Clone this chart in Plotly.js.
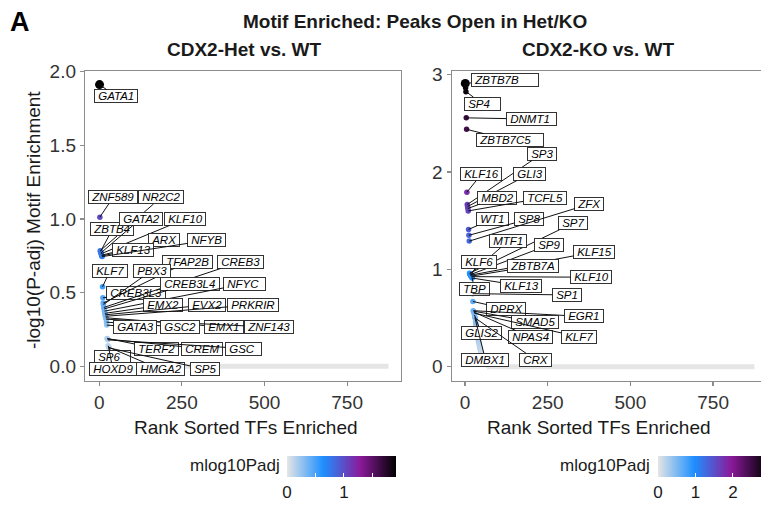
<!DOCTYPE html>
<html>
<head>
<meta charset="utf-8">
<script src="https://cdn.plot.ly/plotly-3.0.1.min.js"></script>
<style>
html,body{margin:0;padding:0;overflow:hidden;background:#fff;}
#chart{width:770px;height:506px;}
</style>
</head>
<body>
<div id="chart"></div>
<script>
// ---------------- DATA ----------------
// CDX2-Het vs. WT : top TFs (rank sorted), labelled
const hetNames = ["GATA1","ZNF589","NR2C2","ZBTB4","GATA2","KLF10","ARX","KLF13","NFYB","KLF7",
  "CREB3L3","TFAP2B","PBX3","CREB3","CREB3L4","NFYC","EMX2","EVX2","PRKRIR","EMX1",
  "ZNF143","GSC2","GATA3","TERF2","CREM","GSC","SP6","HOXD9","HMGA2","SP5"];
const hetValues = [1.913,1.013,0.785,0.78,0.77,0.765,0.755,0.75,0.745,0.54,
  0.465,0.43,0.42,0.40,0.39,0.375,0.36,0.35,0.34,0.33,
  0.32,0.30,0.28,0.19,0.185,0.18,0.14,0.135,0.13,0.125];
// unlabelled ranks following the labelled ones
const hetTailValues = [0.10,0.08,0.06,0.045,0.03,0.02,0.012,0.006];
const hetTotalTFs = 875;   // remaining TFs sit at 0

// CDX2-KO vs. WT
const koNames = ["ZBTB7B","","SP4","DNMT1","ZBTB7C5","KLF16","SP3","GLI3","MBD2","TCFL5",
  "WT1","SP8","ZFX","SP7","MTF1","SP9","KLF15","KLF6","ZBTB7A","KLF10",
  "TBP","KLF13","SP1","DPRX","EGR1","SMAD5","NPAS4","KLF7","GLIS2","DMBX1","CRX"];
const koValues = [2.91,2.866,2.825,2.556,2.438,1.792,1.665,1.645,1.625,1.60,
  1.41,1.35,1.29,0.96,0.95,0.945,0.94,0.935,0.93,0.925,
  0.915,0.91,0.75,0.67,0.575,0.57,0.56,0.55,0.53,0.505,0.50];
const koTailValues = [0.46,0.44,0.42,0.39,0.37,0.35,0.33,0.31,0.28,0.26,
  0.25,0.23,0.21,0.20,0.18,0.17,0.15,0.14,0.13,0.12,
  0.10,0.09,0.08,0.07,0.06,0.055,0.05,0.045,0.04,0.035,
  0.03,0.03,0.025,0.02,0.02];
const koTotalTFs = 875;

const xTickVals = [0,250,500,750];
const hetYTicks = [0,0.5,1,1.5,2];
const hetYTickText = ["0.0","0.5","1.0","1.5","2.0"];
const koYTicks = [0,1,2,3];

// ---------------- LABEL PLACEMENT (layout: label box centres) ----------------
const hetLabelAt = {
  GATA1:[51,1.833], ZNF589:[42,1.147], NR2C2:[187,1.147], GATA2:[125,1.001], KLF10:[261,1.001],
  ZBTB4:[40,0.931], ARX:[196,0.855], NFYB:[325,0.855], KLF13:[101,0.792], TFAP2B:[267,0.709],
  CREB3:[427,0.709], KLF7:[33,0.65], PBX3:[159,0.65], CREB3L4:[275,0.561], NFYC:[441,0.561],
  CREB3L3:[112,0.498], EMX2:[194,0.417], EVX2:[326,0.417], PRKRIR:[466,0.417], GATA3:[109,0.267],
  GSC2:[244,0.267], EMX1:[377,0.267], ZNF143:[514,0.267], TERF2:[174,0.121], CREM:[311,0.121],
  GSC:[438,0.121], SP6:[41,0.065], HOXD9:[41,-0.019], HMGA2:[184,-0.019], SP5:[319,-0.019]
};
const koLabelAt = {
  ZBTB7B:[120,2.943], SP4:[53,2.702], DNMT1:[202,2.543], ZBTB7C5:[136,2.327], SP3:[232,2.186],
  KLF16:[50,1.978], GLI3:[194,1.978], MBD2:[97,1.736], TCFL5:[241,1.736], ZFX:[376,1.670],
  WT1:[83,1.517], SP8:[194,1.517], SP7:[327,1.474], MTF1:[131,1.290], SP9:[254,1.251],
  KLF15:[390,1.177], KLF6:[42,1.076], ZBTB7A:[206,1.034], KLF10:[382,0.919], TBP:[30,0.803],
  KLF13:[170,0.832], SP1:[308,0.737], DPRX:[125,0.593], EGR1:[360,0.516], SMAD5:[213,0.459],
  GLIS2:[49,0.348], NPAS4:[198,0.306], KLF7:[344,0.306], DMBX1:[62,0.071], CRX:[213,0.071]
};
const extraPad = {ZBTB7B:5, ZBTB7C5:3, SP4:2, DNMT1:1, GSC:1, NFYC:1, SP6:2};

// ---------------- BUILD ----------------
const FONT = "Liberation Sans, Arial, Helvetica, sans-serif";
const colorscale = [[0,"#e5e5e5"],[0.33,"#1e90ff"],[0.67,"#8b1a9b"],[1,"#000000"]];

function panelTraces(values, tail, total, xa, ya, cax){
  const all = values.concat(tail);
  const ranks = all.map((v,i)=>i+1);
  const sizes = all.map((v,i)=> i===0 ? 9 : 5.5);
  return [{
    type:"scatter", mode:"lines", x:[all.length+1, total], y:[0,0],
    xaxis:xa, yaxis:ya, line:{color:"#e5e5e5", width:5}, hoverinfo:"skip", showlegend:false
  },{
    type:"scatter", mode:"markers", x:ranks, y:all, xaxis:xa, yaxis:ya,
    marker:{color:all, coloraxis:cax, size:sizes, opacity:1, line:{width:0}}, showlegend:false
  }];
}

function labelAnns(names, values, placement, xr, yr){
  const out = [];
  names.forEach((n,i)=>{
    if(!n || !placement[n]) return;
    const p = placement[n];
    const pad = "\u00a0".repeat(1 + (extraPad[n]||0));
    out.push({
      xref:xr, yref:yr, axref:xr, ayref:yr, x:i+1, y:values[i], ax:p[0], ay:p[1],
      text:"<i>\u00a0"+n+pad+"</i>", showarrow:true, arrowhead:0, arrowwidth:1,
      arrowcolor:"#111", standoff:0, startstandoff:0,
      bgcolor:"#ffffff", bordercolor:"#333333", borderwidth:1, borderpad:0,
      font:{family:FONT, size:11.5, color:"#000"}
    });
  });
  return out;
}

const W = 770, H = 506;
const px = v => v/W, py = v => 1 - v/H;

const traces = panelTraces(hetValues, hetTailValues, hetTotalTFs, "x", "y", "coloraxis")
  .concat(panelTraces(koValues, koTailValues, koTotalTFs, "x2", "y2", "coloraxis2"));

const axisCommon = {
  showgrid:false, zeroline:false, showline:true, mirror:true, linecolor:"#8c8c8c", linewidth:1.2,
  ticks:"outside", ticklen:4, tickwidth:1.2, tickcolor:"#8c8c8c",
  tickfont:{family:FONT, size:19, color:"#333"}, fixedrange:true
};
const yDom = [1-388/H, 1-72/H];

const annotations = [
  {xref:"paper", yref:"paper", x:px(8), y:py(5), xanchor:"left", yanchor:"top", showarrow:false,
   text:"<b>A</b>", font:{family:FONT, size:27, color:"#000"}},
  {xref:"paper", yref:"paper", x:px(415), y:py(22), xanchor:"center", yanchor:"middle", showarrow:false,
   text:"<b>Motif Enriched: Peaks Open in Het/KO</b>", font:{family:FONT, size:19, color:"#1a1a1a"}},
  {xref:"paper", yref:"paper", x:px(244), y:py(50), xanchor:"center", yanchor:"middle", showarrow:false,
   text:"<b>CDX2-Het vs. WT</b>", font:{family:FONT, size:19, color:"#1a1a1a"}},
  {xref:"paper", yref:"paper", x:px(598), y:py(50), xanchor:"center", yanchor:"middle", showarrow:false,
   text:"<b>CDX2-KO vs. WT</b>", font:{family:FONT, size:19, color:"#1a1a1a"}},
  {xref:"paper", yref:"paper", x:px(246), y:py(435), xanchor:"center", yanchor:"middle", showarrow:false,
   text:"Rank Sorted TFs Enriched", font:{family:FONT, size:19, color:"#1a1a1a"}},
  {xref:"paper", yref:"paper", x:px(599), y:py(435), xanchor:"center", yanchor:"middle", showarrow:false,
   text:"Rank Sorted TFs Enriched", font:{family:FONT, size:19, color:"#1a1a1a"}},
  {xref:"paper", yref:"paper", x:px(33), y:py(224), xanchor:"center", yanchor:"middle", showarrow:false,
   textangle:-90, text:"-log10(P-adj) Motif Enrichment", font:{family:FONT, size:19, color:"#1a1a1a"}},
  {xref:"paper", yref:"paper", x:px(282), y:py(474), xanchor:"right", yanchor:"middle", showarrow:false,
   text:"mlog10Padj", font:{family:FONT, size:17, color:"#1a1a1a"}},
  {xref:"paper", yref:"paper", x:px(652), y:py(474), xanchor:"right", yanchor:"middle", showarrow:false,
   text:"mlog10Padj", font:{family:FONT, size:17, color:"#1a1a1a"}}
].concat(labelAnns(hetNames, hetValues, hetLabelAt, "x", "y"))
 .concat(labelAnns(koNames, koValues, koLabelAt, "x2", "y2"));

function cbar(x0, tv, tt){
  return {orientation:"h", x:px(x0), xanchor:"left", y:py(464), yanchor:"top",
    len:109, lenmode:"pixels", thickness:21, thicknessmode:"pixels", outlinewidth:0,
    xpad:0, ypad:0, ticks:"inside", ticklen:4, tickwidth:1, tickcolor:"#ffffff",
    tickvals:tv, ticktext:tt, tickfont:{family:FONT, size:17, color:"#1a1a1a"}};
}

const layout = {
  width:W, height:H, margin:{l:0,r:0,t:0,b:0},
  paper_bgcolor:"#fff", plot_bgcolor:"#fff", showlegend:false, font:{family:FONT},
  xaxis:Object.assign({}, axisCommon, {domain:[85/W, 401/W], range:[-43,913], tickvals:xTickVals, anchor:"y"}),
  yaxis:Object.assign({}, axisCommon, {domain:yDom, range:[-0.1,2.007], tickvals:hetYTicks, ticktext:hetYTickText, anchor:"x"}),
  xaxis2:Object.assign({}, axisCommon, {domain:[451.7/W, 767.7/W], range:[-40,915], tickvals:xTickVals, anchor:"y2"}),
  yaxis2:Object.assign({}, axisCommon, {domain:yDom, range:[-0.148,3.04], tickvals:koYTicks, anchor:"x2"}),
  coloraxis:{cmin:0, cmax:Math.max(...hetValues), colorscale:colorscale,
    colorbar:cbar(287, [0,0.5,1,1.5], ["0","","1",""])},
  coloraxis2:{cmin:0, cmax:Math.max(...koValues), colorscale:colorscale,
    colorbar:cbar(658, [0,1,2], ["0","1","2"])},
  annotations:annotations
};

Plotly.newPlot("chart", traces, layout, {displayModeBar:false, staticPlot:true});
</script>
</body>
</html>
